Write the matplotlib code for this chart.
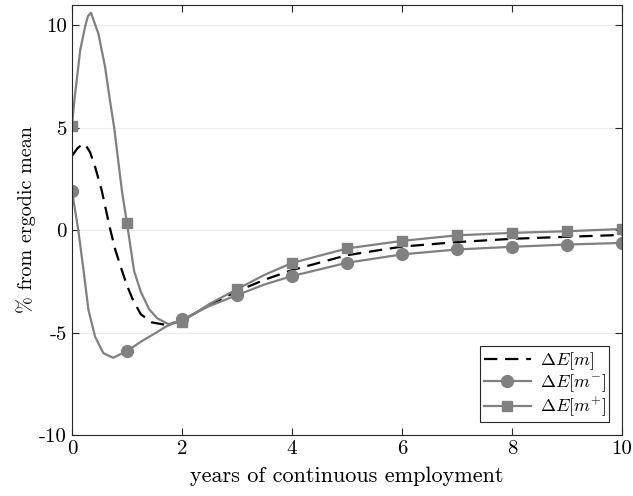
import matplotlib
matplotlib.use('Agg')
import matplotlib.pyplot as plt
import numpy as np

# Delta E[m+] (squares)
t_plus = [0, 0.05, 0.15, 0.24, 0.29, 0.345, 0.48, 0.6, 0.69, 0.77, 0.84, 0.915, 1.0,
          1.13, 1.25, 1.4, 1.55, 1.75, 2, 2.5, 3, 3.5, 4, 5, 6, 7, 8, 9, 10]
v_plus = [5.11, 6.5, 8.8, 9.95, 10.45, 10.62, 9.6, 8.0, 6.35, 4.96, 3.41, 1.79, 0.34,
          -2.0, -3.0, -3.85, -4.3, -4.58, -4.47, -3.6, -2.88, -2.18, -1.6, -0.89, -0.52,
          -0.25, -0.13, -0.05, 0.06]

# Delta E[m-] (circles)
t_minus = [0, 0.115, 0.21, 0.3, 0.42, 0.57, 0.75, 1.0, 1.25, 1.5, 1.7, 2, 2.5, 3, 3.5,
           4, 5, 6, 7, 8, 9, 10]
v_minus = [1.92, 0.0, -1.95, -3.9, -5.2, -6.0, -6.23, -5.9, -5.45, -5.05, -4.72, -4.36,
           -3.7, -3.17, -2.65, -2.24, -1.59, -1.18, -0.94, -0.81, -0.7, -0.62]

# Delta E[m] (dashed)
t_mean = [0, 0.1, 0.18, 0.24, 0.33, 0.42, 0.54, 0.69, 0.79, 0.9, 1.0, 1.1, 1.25, 1.45, 1.7,
          2, 2.5, 3, 3.5, 4, 5, 6, 7, 8, 9, 10]
v_mean = [3.63, 4.0, 4.18, 4.2, 3.8, 3.1, 1.95, 0.1, -0.98, -1.9, -2.7, -3.35, -4.1, -4.5,
          -4.62, -4.42, -3.65, -2.98, -2.42, -1.95, -1.22, -0.8, -0.58, -0.42, -0.32, -0.23]

x_ticks = [0, 2, 4, 6, 8, 10]
y_ticks = [-10, -5, 0, 5, 10]

plt.rcParams['font.family'] = 'serif'
plt.rcParams['font.serif'] = ['cmr10']
plt.rcParams['mathtext.fontset'] = 'cm'
plt.rcParams['axes.unicode_minus'] = False

gray = (0.5, 0.5, 0.5)
axis_col = (0.15, 0.15, 0.15)

fig = plt.figure(figsize=(6.33, 4.96), dpi=100)
ax = fig.add_axes([0.1137, 0.123, 0.869, 0.867])


def int_marks(t):
    return [i for i, v in enumerate(t) if float(v).is_integer()]


ax.plot(t_mean, v_mean, color='black', lw=1.6, dashes=(6, 3.5), label=r'$\Delta E[m]$')
ax.plot(t_minus, v_minus, color=gray, lw=1.6, marker='o', ms=8.5,
        markevery=int_marks(t_minus), label=r'$\Delta E[m^{-}]$')
ax.plot(t_plus, v_plus, color=gray, lw=1.6, marker='s', ms=6.5,
        markevery=int_marks(t_plus), label=r'$\Delta E[m^{+}]$')

ax.set_xlim(0, 10)
ax.set_ylim(-10, 11)
ax.set_xticks(x_ticks)
ax.set_yticks(y_ticks)
ax.yaxis.grid(True, color=(0.92, 0.92, 0.92), lw=0.8)
ax.set_axisbelow(True)
ax.tick_params(direction='in', top=True, right=True, labelsize=15, colors=axis_col,
               length=5, labelcolor='black')
for s in ax.spines.values():
    s.set_color(axis_col)
    s.set_linewidth(0.8)

ax.set_xlabel('years of continuous employment', fontsize=16, labelpad=6)
ax.set_ylabel('% from ergodic mean', fontsize=14.5, labelpad=2)

leg = ax.legend(loc='lower right', fontsize=13, fancybox=False, framealpha=1,
                edgecolor=axis_col, handlelength=2.6, borderpad=0.2, labelspacing=0.05,
                handletextpad=0.5, borderaxespad=0.7)
leg.get_frame().set_linewidth(0.8)

plt.savefig('out.png', dpi=100)
